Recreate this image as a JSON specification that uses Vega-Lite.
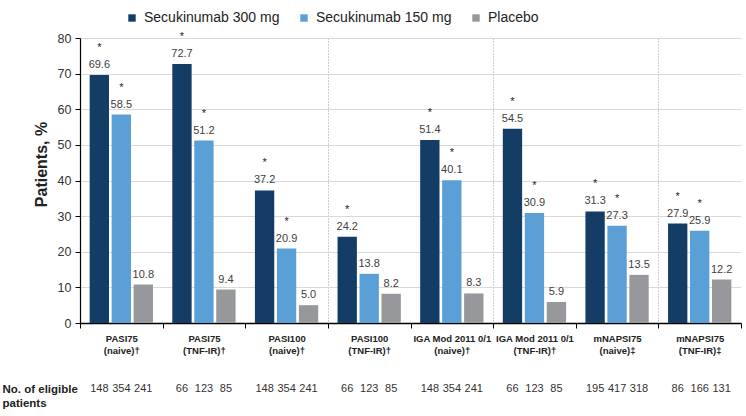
{
  "$schema": "https://vega.github.io/schema/vega-lite/v6.json",
  "padding": {"left": 2, "right": 5, "top": 11, "bottom": 5},
  "background": "white",
  "spacing": 22,
  "config": {"font": "Liberation Sans", "view": {"stroke": null}},
  "resolve": {"legend": {"color": "independent"}},
  "data": {
    "values": [
      {"group": "PASI75|(naive)†", "series": "Secukinumab 300 mg", "value": 69.6, "sig": "*", "n": 148, "row": "No. of eligible|patients"},
      {"group": "PASI75|(naive)†", "series": "Secukinumab 150 mg", "value": 58.5, "sig": "*", "n": 354, "row": "No. of eligible|patients"},
      {"group": "PASI75|(naive)†", "series": "Placebo", "value": 10.8, "sig": "", "n": 241, "row": "No. of eligible|patients"},
      {"group": "PASI75|(TNF-IR)†", "series": "Secukinumab 300 mg", "value": 72.7, "sig": "*", "n": 66, "row": "No. of eligible|patients"},
      {"group": "PASI75|(TNF-IR)†", "series": "Secukinumab 150 mg", "value": 51.2, "sig": "*", "n": 123, "row": "No. of eligible|patients"},
      {"group": "PASI75|(TNF-IR)†", "series": "Placebo", "value": 9.4, "sig": "", "n": 85, "row": "No. of eligible|patients"},
      {"group": "PASI100|(naive)†", "series": "Secukinumab 300 mg", "value": 37.2, "sig": "*", "n": 148, "row": "No. of eligible|patients"},
      {"group": "PASI100|(naive)†", "series": "Secukinumab 150 mg", "value": 20.9, "sig": "*", "n": 354, "row": "No. of eligible|patients"},
      {"group": "PASI100|(naive)†", "series": "Placebo", "value": 5.0, "sig": "", "n": 241, "row": "No. of eligible|patients"},
      {"group": "PASI100|(TNF-IR)†", "series": "Secukinumab 300 mg", "value": 24.2, "sig": "*", "n": 66, "row": "No. of eligible|patients"},
      {"group": "PASI100|(TNF-IR)†", "series": "Secukinumab 150 mg", "value": 13.8, "sig": "", "n": 123, "row": "No. of eligible|patients"},
      {"group": "PASI100|(TNF-IR)†", "series": "Placebo", "value": 8.2, "sig": "", "n": 85, "row": "No. of eligible|patients"},
      {"group": "IGA Mod 2011 0/1|(naive)†", "series": "Secukinumab 300 mg", "value": 51.4, "sig": "*", "n": 148, "row": "No. of eligible|patients"},
      {"group": "IGA Mod 2011 0/1|(naive)†", "series": "Secukinumab 150 mg", "value": 40.1, "sig": "*", "n": 354, "row": "No. of eligible|patients"},
      {"group": "IGA Mod 2011 0/1|(naive)†", "series": "Placebo", "value": 8.3, "sig": "", "n": 241, "row": "No. of eligible|patients"},
      {"group": "IGA Mod 2011 0/1|(TNF-IR)†", "series": "Secukinumab 300 mg", "value": 54.5, "sig": "*", "n": 66, "row": "No. of eligible|patients"},
      {"group": "IGA Mod 2011 0/1|(TNF-IR)†", "series": "Secukinumab 150 mg", "value": 30.9, "sig": "*", "n": 123, "row": "No. of eligible|patients"},
      {"group": "IGA Mod 2011 0/1|(TNF-IR)†", "series": "Placebo", "value": 5.9, "sig": "", "n": 85, "row": "No. of eligible|patients"},
      {"group": "mNAPSI75|(naive)‡", "series": "Secukinumab 300 mg", "value": 31.3, "sig": "*", "n": 195, "row": "No. of eligible|patients"},
      {"group": "mNAPSI75|(naive)‡", "series": "Secukinumab 150 mg", "value": 27.3, "sig": "*", "n": 417, "row": "No. of eligible|patients"},
      {"group": "mNAPSI75|(naive)‡", "series": "Placebo", "value": 13.5, "sig": "", "n": 318, "row": "No. of eligible|patients"},
      {"group": "mNAPSI75|(TNF-IR)‡", "series": "Secukinumab 300 mg", "value": 27.9, "sig": "*", "n": 86, "row": "No. of eligible|patients"},
      {"group": "mNAPSI75|(TNF-IR)‡", "series": "Secukinumab 150 mg", "value": 25.9, "sig": "*", "n": 166, "row": "No. of eligible|patients"},
      {"group": "mNAPSI75|(TNF-IR)‡", "series": "Placebo", "value": 12.2, "sig": "", "n": 131, "row": "No. of eligible|patients"}
    ]
  },
  "vconcat": [
    {
      "width": 661,
      "height": 285,
      "encoding": {
        "x": {
          "field": "group",
          "type": "nominal",
          "sort": null,
          "scale": {"paddingInner": 0, "paddingOuter": 0},
          "axis": {
            "title": null,
            "labelExpr": "isValid(datum.value) ? split(datum.value, '|') : ''",
            "labelAngle": 0,
            "labelFontSize": 9.5,
            "labelFontWeight": "bold",
            "labelColor": "#222222",
            "labelLineHeight": 12.5,
            "labelPadding": 5,
            "labelOverlap": false,
            "labelBaseline": "top",
            "tickBand": "extent",
            "tickSize": 5,
            "tickColor": "#000000",
            "domainColor": "#000000",
            "domainWidth": 1.5,
            "grid": true,
            "gridColor": "#9a9a9a",
            "gridDash": [1, 2],
            "gridOpacity": {
              "condition": {
                "test": "indexof(['PASI100|(naive)†', 'IGA Mod 2011 0/1|(naive)†', 'mNAPSI75|(naive)‡'], datum.value) >= 0",
                "value": 1
              },
              "value": 0
            }
          }
        },
        "xOffset": {
          "field": "series",
          "type": "nominal",
          "sort": ["Secukinumab 300 mg", "Secukinumab 150 mg", "Placebo"],
          "scale": {"paddingInner": 0.12, "paddingOuter": 0.44}
        },
        "y": {
          "field": "value",
          "type": "quantitative",
          "scale": {"domain": [0, 80], "nice": false},
          "axis": {
            "title": "Patients, %",
            "titleFontSize": 16,
            "titleFontWeight": "bold",
            "titleColor": "#222222",
            "titlePadding": 8,
            "titleY": 126,
            "values": [0, 10, 20, 30, 40, 50, 60, 70, 80],
            "labelFontSize": 12.5,
            "labelColor": "#333333",
            "labelPadding": 4,
            "labelOverlap": false,
            "tickColor": "#000000",
            "tickSize": 5,
            "domainColor": "#000000",
            "domainWidth": 1.2,
            "grid": true,
            "gridColor": "#d9d9d9"
          }
        }
      },
      "layer": [
        {
          "mark": {"type": "bar"},
          "encoding": {
            "color": {
              "field": "series",
              "type": "nominal",
              "sort": ["Secukinumab 300 mg", "Secukinumab 150 mg", "Placebo"],
              "scale": {
                "domain": ["Secukinumab 300 mg", "Secukinumab 150 mg", "Placebo"],
                "range": ["#143d66", "#5a9fd6", "#97989b"]
              },
              "legend": {
                "title": null,
                "orient": "none",
                "legendX": 45,
                "legendY": -27,
                "direction": "horizontal",
                "symbolType": "square",
                "symbolSize": 55,
                "symbolStrokeWidth": 0,
                "labelFontSize": 14,
                "labelColor": "#222222",
                "columnPadding": 17,
                "labelOffset": 5,
                "padding": 0
              }
            }
          }
        },
        {
          "mark": {"type": "text", "baseline": "alphabetic", "dy": -7, "fontSize": 11, "color": "#404040"},
          "encoding": {
            "text": {"field": "value", "type": "quantitative", "format": ".1f"}
          }
        },
        {
          "mark": {"type": "text", "baseline": "alphabetic", "dy": -24, "fontSize": 11, "color": "#222222"},
          "encoding": {
            "text": {"field": "sig"}
          }
        }
      ]
    },
    {
      "width": 661,
      "height": 24,
      "mark": {"type": "text", "baseline": "middle", "fontSize": 11, "color": "#333333"},
      "encoding": {
        "x": {
          "field": "group",
          "type": "nominal",
          "sort": null,
          "scale": {"paddingInner": 0, "paddingOuter": 0},
          "axis": null
        },
        "xOffset": {
          "field": "series",
          "type": "nominal",
          "sort": ["Secukinumab 300 mg", "Secukinumab 150 mg", "Placebo"],
          "scale": {"paddingInner": 0.12, "paddingOuter": 0.44}
        },
        "y": {
          "field": "row",
          "type": "nominal",
          "axis": {
            "title": null,
            "ticks": false,
            "tickSize": 0,
            "domain": false,
            "grid": false,
            "labelExpr": "split(datum.value, '|')",
            "labelAlign": "left",
            "labelBaseline": "middle",
            "labelPadding": 78,
            "labelFontSize": 11.5,
            "labelFontWeight": "bold",
            "labelColor": "#222222",
            "labelLineHeight": 14,
            "labelLimit": 200
          }
        },
        "text": {"field": "n", "type": "quantitative"}
      }
    }
  ]
}
